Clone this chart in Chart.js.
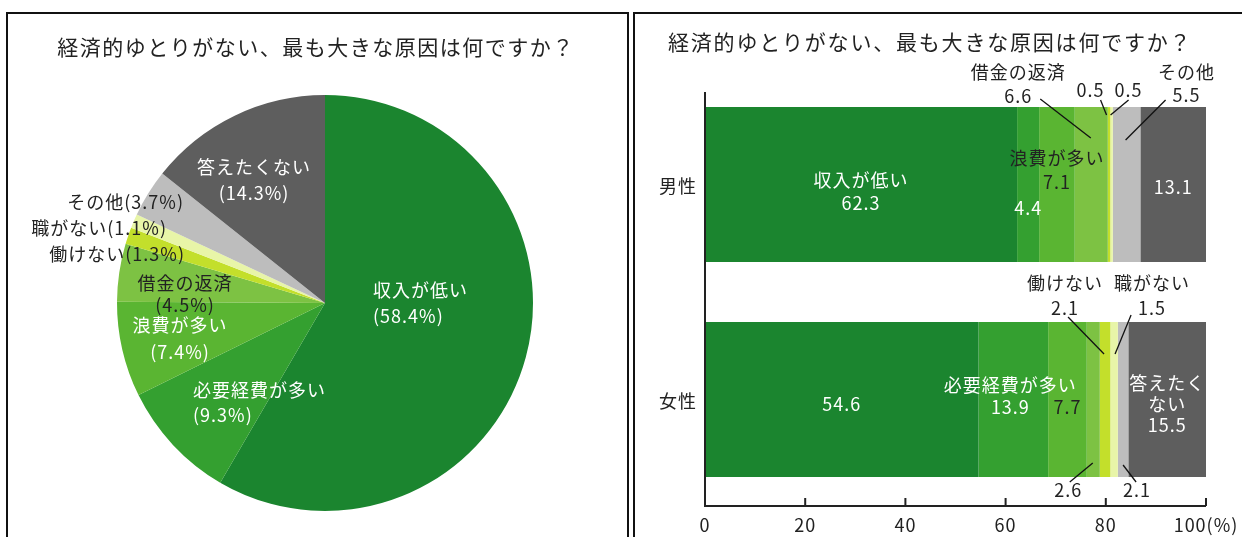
<!DOCTYPE html>
<html lang="ja">
<head>
<meta charset="utf-8">
<script src="https://cdn.jsdelivr.net/npm/chart.js@4.4.1/dist/chart.umd.min.js"></script>
<style>
  html, body { margin: 0; padding: 0; background: #fff; }
  body { width: 1242px; height: 537px; position: relative; overflow: hidden; font-family: "Noto Sans CJK JP", sans-serif; }
  .panel { position: absolute; border: 2px solid #111; border-bottom: none; box-sizing: border-box; }
  #leftPanel { left: 6px; top: 12px; width: 623px; height: 540px; }
  #rightPanel { left: 633px; top: 12px; width: 620px; height: 540px; border-right: none; }
  .title { position: absolute; font-size: 21px; letter-spacing: 1.5px; color: #222; white-space: nowrap; line-height: 1; }
  #leftTitle { left: 0; width: 632px; text-align: center; top: 36px; }
  #rightTitle { left: 668px; top: 31px; letter-spacing: 1.8px; }
  canvas { position: absolute; }
  #pieChart { left: 0; top: 0; }
  #barChart { left: 636px; top: 15px; }
</style>
</head>
<body>
<canvas id="pieChart" width="630" height="537"></canvas>
<canvas id="barChart" width="606" height="522"></canvas>
<div class="panel" id="leftPanel"></div>
<div class="panel" id="rightPanel"></div>
<div class="title" id="leftTitle">経済的ゆとりがない、最も大きな原因は何ですか？</div>
<div class="title" id="rightTitle">経済的ゆとりがない、最も大きな原因は何ですか？</div>
<script>
const reasons = ['収入が低い', '必要経費が多い', '浪費が多い', '借金の返済', '働けない', '職がない', 'その他', '答えたくない'];
const totalShare = [58.4, 9.3, 7.4, 4.5, 1.3, 1.1, 3.7, 14.3];
const groups = ['男性', '女性'];
const maleShare = [62.3, 4.4, 7.1, 6.6, 0.5, 0.5, 5.5, 13.1];
const femaleShare = [54.6, 13.9, 7.7, 2.6, 2.1, 1.5, 2.1, 15.5];
const xTicks = [0, 20, 40, 60, 80, 100];

const palette = ['#1b852f', '#34a030', '#5ab532', '#7dc243', '#c3df2b', '#e8f5a8', '#bdbdbd', '#5e5e5e'];
const FONT = '18px "Noto Sans CJK JP", sans-serif';
const DARK = '#222';

function drawText(ctx, lines, x, y, lh, align, color) {
    ctx.save();
    ctx.font = FONT;
    ctx.fillStyle = color;
    ctx.textAlign = align;
    ctx.textBaseline = 'middle';
    if ('letterSpacing' in ctx) ctx.letterSpacing = '1px';
    lines.forEach((t, k) => ctx.fillText(t, x, y + k * lh));
    ctx.restore();
}

// pie labels: offsets from the pie centre, one entry per reason
const pieLabelLayout = [
    { align: 'left',   dx: 48,   dy: -13,  lh: 26, color: '#fff', split: true },
    { align: 'left',   dx: -132, dy: 87,   lh: 25, color: '#fff', split: true },
    { align: 'center', dx: -145, dy: 22,   lh: 27, color: '#fff', split: true },
    { align: 'center', dx: -140, dy: -20,  lh: 22, color: DARK,   split: true },
    { align: 'right',  dx: -140, dy: -49,  lh: 0,  color: DARK,   split: false },
    { align: 'right',  dx: -158, dy: -75,  lh: 0,  color: DARK,   split: false },
    { align: 'right',  dx: -141, dy: -101, lh: 0,  color: DARK,   split: false },
    { align: 'center', dx: -71,  dy: -136, lh: 26, color: '#fff', split: true }
];

const pieLabels = {
    id: 'pieLabels',
    afterDatasetsDraw(chart) {
        const ctx = chart.ctx;
        const arc = chart.getDatasetMeta(0).data[0];
        const cx = arc.x, cy = arc.y;
        reasons.forEach((name, i) => {
            const L = pieLabelLayout[i];
            const pct = '(' + totalShare[i].toFixed(1) + '%)';
            const lines = L.split ? [name, pct] : [name + pct];
            drawText(ctx, lines, cx + L.dx, cy + L.dy, L.lh, L.align, L.color);
        });
    }
};

new Chart(document.getElementById('pieChart'), {
    type: 'pie',
    data: {
        labels: reasons,
        datasets: [{ data: totalShare, backgroundColor: palette, borderWidth: 0, hoverOffset: 0 }]
    },
    options: {
        responsive: false,
        animation: false,
        layout: { padding: { left: 117, top: 95, right: 97, bottom: 26 } },
        plugins: { legend: { display: false }, tooltip: { enabled: false } }
    },
    plugins: [pieLabels]
});

// bar labels: offsets from each segment centre; lead = leader line [from, to]
const barLabelLayout = [
    [
        { name: true,  color: '#fff', dx: 0,     dy: -4.5,   lh: 23 },
        { name: false, color: '#fff', dx: 0,     dy: 23.5 },
        { name: true,  color: DARK,   dx: 0,     dy: -26.5,  lh: 24 },
        { name: true,  color: DARK,   dx: -73,   dy: -112.5, lh: 24, lead: [[-51, -85.5], [-0.5, -46.5]] },
        { name: false, color: DARK,   dx: -18.5, dy: -94.5,  lead: [[-8.5, -84.5], [-2.5, -69.5]] },
        { name: false, color: DARK,   dx: 17,    dy: -94.5,  lead: [[17, -84.5], [-1, -69.5]] },
        { name: true,  color: DARK,   dx: 60,    dy: -112.5, lh: 23, lead: [[39, -84.5], [-1, -44.5]] },
        { name: false, color: '#fff', dx: 0,     dy: 2.5 }
    ],
    [
        { name: false, color: '#fff', dx: 0,   dy: 5 },
        { name: true,  color: '#fff', dx: -3,  dy: -14.5, lh: 22 },
        { name: false, color: DARK,   dx: 0,   dy: 8 },
        { name: false, color: DARK,   dx: -25, dy: 90.5,  lead: [[-23.5, 82.5], [-0.5, 63.5]] },
        { name: true,  color: DARK,   dx: -40, dy: -116.5, lh: 25, lead: [[-37, -82.5], [-1, -45.5]] },
        { name: true,  color: DARK,   dx: 38,  dy: -116.5, lh: 25, lead: [[17, -84.5], [1, -45.5]] },
        { name: false, color: DARK,   dx: 14,  dy: 90.5,  lead: [[0, 65.5], [13, 82.5]] },
        { name: true,  color: '#fff', dx: 0,   dy: -16.5, lh: 21, wrap: ['答えたく', 'ない'] }
    ]
];

const barLabels = {
    id: 'barLabels',
    afterDatasetsDraw(chart) {
        const ctx = chart.ctx;
        const series = [maleShare, femaleShare];
        reasons.forEach((name, i) => {
            const meta = chart.getDatasetMeta(i);
            groups.forEach((g, j) => {
                const bar = meta.data[j];
                const cx = (bar.x + bar.base) / 2, cy = bar.y;
                const L = barLabelLayout[j][i];
                const val = series[j][i].toFixed(1);
                const lines = L.name ? [...(L.wrap || [name]), val] : [val];
                drawText(ctx, lines, cx + L.dx, cy + L.dy, L.lh || 0, 'center', L.color);
                if (L.lead) {
                    ctx.save();
                    ctx.strokeStyle = '#111';
                    ctx.lineWidth = 1.3;
                    ctx.beginPath();
                    ctx.moveTo(cx + L.lead[0][0], cy + L.lead[0][1]);
                    ctx.lineTo(cx + L.lead[1][0], cy + L.lead[1][1]);
                    ctx.stroke();
                    ctx.restore();
                }
            });
        });
    }
};

// axis lines, upward ticks, tick labels and the group names
const barAxis = {
    id: 'barAxis',
    afterDatasetsDraw(chart) {
        const ctx = chart.ctx;
        const xs = chart.scales.x;
        const area = chart.chartArea;
        const firstBar = chart.getDatasetMeta(0).data[0];
        const axisY = area.bottom - 1;
        const x0 = xs.getPixelForValue(0);
        ctx.save();
        ctx.strokeStyle = '#222';
        ctx.lineWidth = 2;
        ctx.beginPath();
        ctx.moveTo(x0, firstBar.y - firstBar.height / 2 - 15);
        ctx.lineTo(x0, axisY);
        ctx.lineTo(xs.getPixelForValue(100), axisY);
        xTicks.forEach(t => {
            if (t === 0) return;
            const px = xs.getPixelForValue(t);
            ctx.moveTo(px, axisY);
            ctx.lineTo(px, axisY - 8);
        });
        ctx.stroke();
        ctx.restore();
        xTicks.forEach(t => {
            const txt = t === 100 ? '100(%)' : String(t);
            drawText(ctx, [txt], xs.getPixelForValue(t), axisY + 19, 0, 'center', DARK);
        });
        groups.forEach((g, j) => {
            const bar = chart.getDatasetMeta(0).data[j];
            drawText(ctx, [g], x0 - 27, bar.y + 2, 0, 'center', DARK);
        });
    }
};

new Chart(document.getElementById('barChart'), {
    type: 'bar',
    data: {
        labels: groups,
        datasets: reasons.map((r, i) => ({
            label: r,
            data: [maleShare[i], femaleShare[i]],
            backgroundColor: palette[i],
            borderWidth: 0,
            barPercentage: 0.72,
            categoryPercentage: 1
        }))
    },
    options: {
        indexAxis: 'y',
        responsive: false,
        animation: false,
        layout: { padding: { left: 69, right: 36, top: 62, bottom: 30 } },
        scales: {
            x: { stacked: true, min: 0, max: 100, display: false },
            y: { stacked: true, display: false }
        },
        plugins: { legend: { display: false }, tooltip: { enabled: false } }
    },
    plugins: [barAxis, barLabels]
});
</script>
</body>
</html>
